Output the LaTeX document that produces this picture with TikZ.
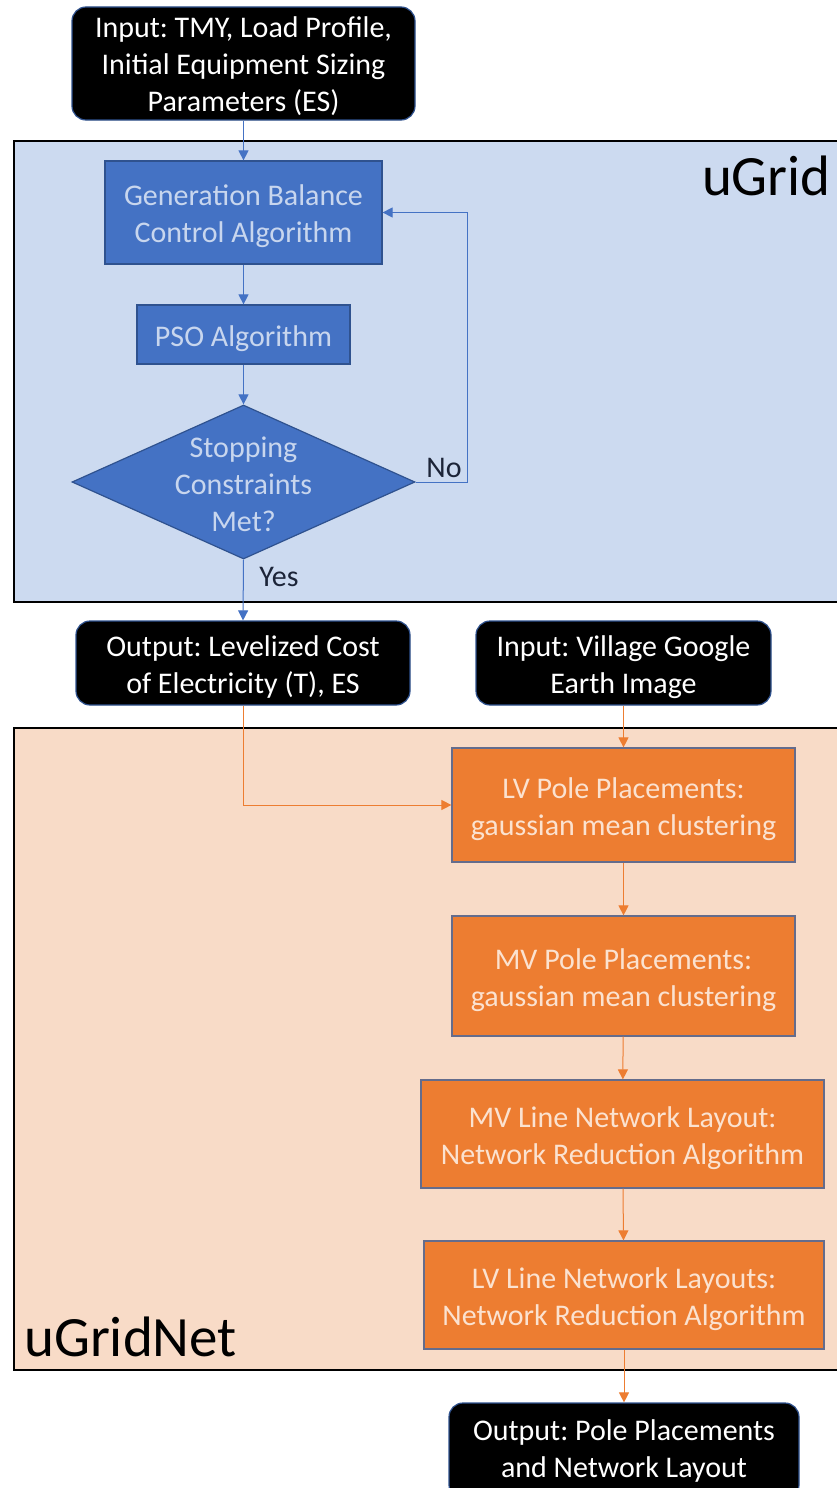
\documentclass[tikz,border=0pt]{standalone}
\usepackage{fontspec}
\setmainfont{Carlito}
\usetikzlibrary{shapes.geometric,arrows.meta}
\definecolor{accblue}{RGB}{68,114,196}
\definecolor{bordblue}{RGB}{47,82,143}
\definecolor{ltblue}{RGB}{200,214,238}
\definecolor{contblue}{RGB}{204,218,240}
\definecolor{accorange}{RGB}{237,125,49}
\definecolor{obord}{RGB}{100,108,140}
\definecolor{ltorange}{RGB}{251,226,208}
\definecolor{contorange}{RGB}{248,219,199}
\definecolor{navy}{RGB}{28,36,56}
\newcommand{\fs}{\frenchspacing\fontsize{30}{37}\selectfont}
\newcommand{\fl}{\fontsize{57}{64}\selectfont}
\newcommand{\hs}[1][29pt]{\rule{0pt}{#1}}
\begin{document}
\begin{tikzpicture}[x=1pt,y=-1pt,
  blk/.style={rounded corners=14pt, fill=black, draw=bordblue, line width=1.2pt, text=white, align=center, font=\fs, inner sep=0pt},
  bbox/.style={fill=accblue, draw=bordblue, line width=1.2pt, text=ltblue, align=center, font=\fs, inner sep=0pt},
  obox/.style={fill=accorange, draw=obord, line width=1.2pt, text=ltorange, align=center, font=\fs, inner sep=0pt},
  cont/.style={draw=black, line width=1.2pt},
  barrow/.style={draw=accblue, line width=1pt, -{Triangle[width=10pt,length=10pt]}},
  oarrow/.style={draw=accorange, line width=1pt, -{Triangle[width=10pt,length=10pt]}},
  lbl/.style={text=navy, font=\fs, inner sep=0pt}]
\useasboundingbox (0,0) rectangle (836,1488);
\fill[white] (0,0) rectangle (836,1488);
% containers
\draw[cont, fill=contblue] (14,141) rectangle (860,602);
\draw[cont, fill=contorange] (14,728) rectangle (860,1370);
\node[font=\fl, anchor=base east, inner sep=0pt] (ugl) at (831,195) {uGrid};
\node[font=\fl, anchor=base west, inner sep=0pt] (ugnl) at (24,1356) {uGridNet};
% blue flow
\node[blk, minimum width=343pt, minimum height=113pt] (in) at (243.5,63.5) {\hs[26pt]Input: TMY, Load Profile,\\Initial Equipment Sizing\\Parameters (ES)};
\node[bbox, minimum width=277pt, minimum height=103pt] (gen) at (243.5,212.5) {\hs Generation Balance\\Control Algorithm};
\node[bbox, minimum width=213pt, minimum height=59pt] (pso) at (243.5,334.5) {\hs PSO Algorithm};
\node[bbox, diamond, minimum width=343pt, minimum height=154pt] (dia) at (243.5,482) {};
\node[text=ltblue, align=center, font=\fs, inner sep=0pt] (diatxt) at (243.5,484) {Stopping\\Constraints\\Met?};
\coordinate (noturn) at (467,482);
\node[blk, minimum width=334pt, minimum height=84pt] (lcoe) at (243,663) {\hs Output: Levelized Cost\\of Electricity (T), ES};
\node[blk, minimum width=295pt, minimum height=84pt] (vil) at (623.5,663) {\hs Input: Village Google\\Earth Image};
\node[obox, minimum width=343pt, minimum height=114pt] (lvp) at (623.5,805) {\hs LV Pole Placements:\\gaussian mean clustering};
\node[obox, minimum width=343pt, minimum height=120pt] (mvp) at (623.5,976) {\hs MV Pole Placements:\\gaussian mean clustering};
\node[obox, minimum width=403pt, minimum height=108pt] (mvl) at (622.5,1134) {\hs MV Line Network Layout:\\Network Reduction Algorithm};
\node[obox, minimum width=400pt, minimum height=108pt] (lvl) at (624,1295) {\hs LV Line Network Layouts:\\Network Reduction Algorithm};
\node[blk, minimum width=350pt, minimum height=96pt] (out) at (624,1451) {Output: Pole Placements\\and Network Layout};
% labels
\node[lbl] (no) at (444,468) {No};
\node[lbl] (yes) at (279,577) {Yes};
% connectors
\draw[barrow] (in) -- (gen);
\draw[barrow] (gen) -- (pso);
\draw[barrow] (pso) -- (dia);
\draw[barrow] (dia.east) -- (noturn) |- (gen.east);
\draw[barrow] (dia.south) -- (lcoe.north);
\draw[oarrow] (lcoe.south) |- (lvp.west);
\draw[oarrow] (vil) -- (lvp);
\draw[oarrow] (lvp) -- (mvp);
\draw[oarrow] (mvp) -- (mvl);
\draw[oarrow] (mvl) -- (lvl);
\draw[oarrow] (lvl) -- (out);
\end{tikzpicture}
\end{document}
